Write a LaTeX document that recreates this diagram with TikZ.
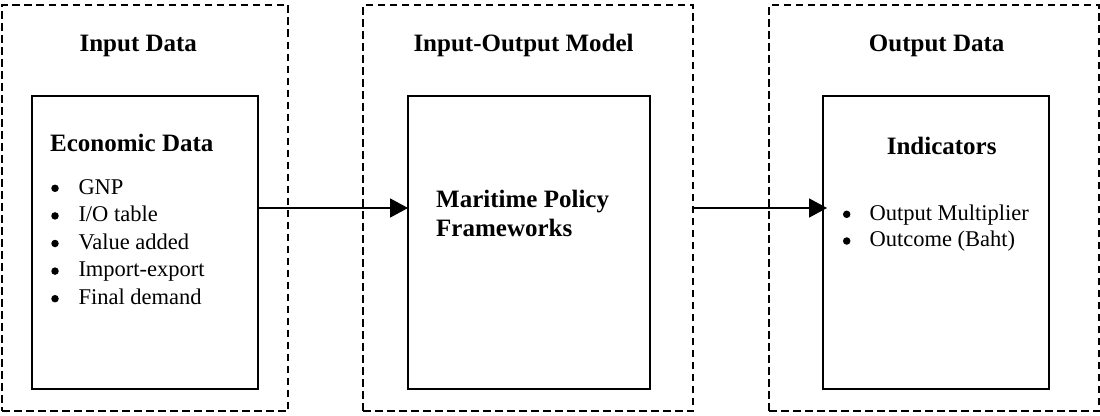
\documentclass[tikz,border=0pt]{standalone}
\usepackage{fontspec}
\setmainfont{Liberation Serif}
\usetikzlibrary{arrows.meta}
\tikzset{
  outerbox/.style={draw, line width=1.9pt, dash pattern=on 7.5pt off 4.5pt,
    inner sep=0pt, outer sep=0pt},
  innerbox/.style={draw, line width=2pt, inner sep=0pt, outer sep=0pt},
  heading/.style={inner sep=0pt, font=\fontsize{25}{28}\selectfont\bfseries},
  itemtext/.style={inner sep=0pt, font=\fontsize{22.5}{27.6}\selectfont},
  dot/.style={circle, fill, inner sep=0pt, minimum size=7.5pt},
  flow/.style={line width=1.7pt, -{Triangle[length=18pt,width=19pt]}}
}
\begin{document}
\begin{tikzpicture}[x=1pt,y=-1pt]
  \useasboundingbox[fill=white] (0,0) rectangle (1100,415);

  % three dashed stages
  \node[outerbox, minimum width=286pt, minimum height=406pt] (inOuter) at (145,208) {};
  \node[outerbox, minimum width=330pt, minimum height=406pt] (ioOuter) at (528,208) {};
  \node[outerbox, minimum width=330pt, minimum height=406pt] (outOuter) at (934,208) {};

  % stage headings
  \node[heading, anchor=base] (inTitle) at (138.3,51) {Input Data};
  \node[heading, anchor=base west] (ioTitle) at (413.3,51) {Input-Output Model};
  \node[heading, anchor=base] (outTitle) at (936.7,51) {Output Data};

  % solid content boxes
  \node[innerbox, minimum width=226pt, minimum height=293pt] (ecoBox) at (145,242.5) {};
  \node[innerbox, minimum width=242pt, minimum height=293pt] (polBox) at (529,242.5) {};
  \node[innerbox, minimum width=226pt, minimum height=293pt] (indBox) at (936,242.5) {};

  % economic data
  \node[heading, anchor=base west] (ecoTitle) at (50,151) {Economic Data};
  \foreach \txt [count=\i] in {GNP, I/O table, Value added, Import-export, Final demand} {
    \node[dot] (ecoDot\i) at (55,{194+27.6*(\i-1)-5.7}) {};
    \node[itemtext, anchor=base west] (eco\i) at (78.3,{194+27.6*(\i-1)}) {\txt};
  }

  % model
  \node[heading, anchor=base west] (pol1) at (436,207.7) {Maritime Policy};
  \node[heading, anchor=base west] (pol2) at (436,236) {Frameworks};

  % indicators
  \node[heading, anchor=base] (indTitle) at (941.7,154) {Indicators};
  \foreach \txt [count=\i] in {Output Multiplier, Outcome (Baht)} {
    \node[dot] (indDot\i) at (846.7,{220+26.7*(\i-1)-5.7}) {};
    \node[itemtext, anchor=base west] (ind\i) at (869.3,{220+26.7*(\i-1)}) {\txt};
  }

  % connectors
  \coordinate (flowLevel) at (0,208);
  \draw[flow] (ecoBox.east |- flowLevel) -- (polBox.west |- flowLevel);
  \draw[flow, shorten >=-4pt] (ioOuter.east |- flowLevel) -- (indBox.west |- flowLevel);
\end{tikzpicture}
\end{document}
